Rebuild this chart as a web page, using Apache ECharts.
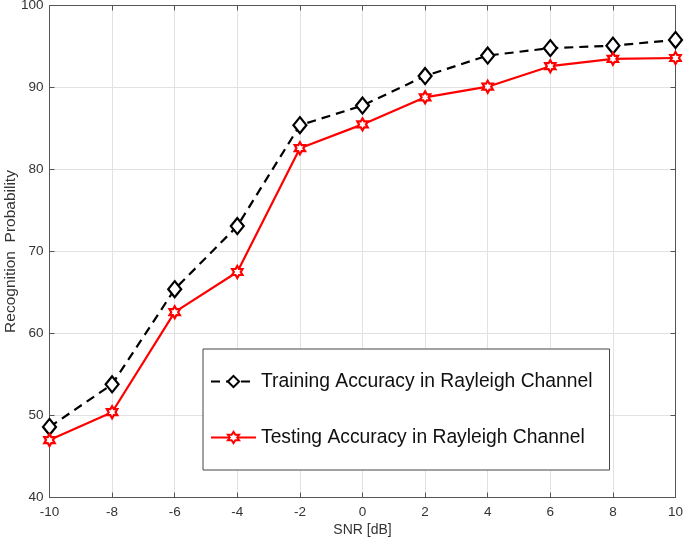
<!DOCTYPE html>
<html>
<head>
<meta charset="utf-8">
<script src="https://cdn.jsdelivr.net/npm/echarts@6/dist/echarts.min.js"></script>
<style>html,body{margin:0;padding:0;background:#fff}#c{width:685px;height:543px}</style>
</head>
<body>
<div id="c"></div>
<script>
const snr = [-10, -8, -6, -4, -2, 0, 2, 4, 6, 8, 10];
const trainAcc = [48.6, 53.8, 65.4, 73.1, 85.4, 87.8, 91.4, 93.9, 94.8, 95.1, 95.8];
const testAcc = [47.0, 50.4, 62.6, 67.5, 82.6, 85.5, 88.8, 90.1, 92.6, 93.5, 93.6];
const trainName = 'Training Accuracy in Rayleigh Channel';
const testName = 'Testing Accuracy in Rayleigh Channel';
const xLabel = 'SNR [dB]';
const yLabel = 'Recognition  Probability';

const hexagram = 'path://M0,-10L2.89,-5L8.66,-5L5.77,0L8.66,5L2.89,5L0,10L-2.89,5L-8.66,5L-5.77,0L-8.66,-5L-2.89,-5Z';
const font = 'Liberation Sans, Arial, Helvetica, sans-serif';
const axisCol = '#555555';
const txtCol = '#333333';

const chart = echarts.init(document.getElementById('c'), null, {renderer: 'canvas'});
const baseX = {type: 'value', min: -10, max: 10, interval: 2};
const baseY = {type: 'value', min: 40, max: 100, interval: 10};
chart.setOption({
  animation: false,
  backgroundColor: '#fff',
  grid: {left: 49.5, right: 9.5, top: 5.5, bottom: 45.5, containLabel: false, outerBoundsMode: 'none'},
  xAxis: [
    Object.assign({}, baseX, {
      position: 'bottom',
      name: xLabel, nameLocation: 'middle', nameGap: 26, nameMoveOverlap: false,
      nameTextStyle: {fontFamily: font, fontSize: 14, color: txtCol},
      axisLine: {show: true, onZero: false, lineStyle: {color: axisCol, width: 1}},
      axisTick: {show: true, inside: true, length: 5, lineStyle: {color: axisCol}},
      axisLabel: {fontFamily: font, fontSize: 13.5, color: txtCol, margin: 8},
      splitLine: {show: true, lineStyle: {color: '#e2e2e2', width: 1}}
    }),
    Object.assign({}, baseX, {
      position: 'top',
      axisLine: {show: true, onZero: false, lineStyle: {color: axisCol, width: 1}},
      axisTick: {show: true, inside: true, length: 5, lineStyle: {color: axisCol}},
      axisLabel: {show: false},
      splitLine: {show: false}
    })
  ],
  yAxis: [
    Object.assign({}, baseY, {
      position: 'left',
      name: yLabel, nameLocation: 'middle', nameGap: 31, nameRotate: 90, nameMoveOverlap: false,
      nameTextStyle: {fontFamily: font, fontSize: 15.5, color: txtCol},
      axisLine: {show: true, onZero: false, lineStyle: {color: axisCol, width: 1}},
      axisTick: {show: true, inside: true, length: 5, lineStyle: {color: axisCol}},
      axisLabel: {fontFamily: font, fontSize: 13.5, color: txtCol, margin: 6},
      splitLine: {show: true, lineStyle: {color: '#e2e2e2', width: 1}}
    }),
    Object.assign({}, baseY, {
      position: 'right',
      axisLine: {show: true, onZero: false, lineStyle: {color: axisCol, width: 1}},
      axisTick: {show: true, inside: true, length: 5, lineStyle: {color: axisCol}},
      axisLabel: {show: false},
      splitLine: {show: false}
    })
  ],
  legend: {
    orient: 'vertical',
    left: 203, top: 349,
    padding: [23, 17, 23, 7],
    itemGap: 37,
    itemWidth: 45, itemHeight: 14,
    backgroundColor: '#fff',
    borderColor: '#444', borderWidth: 1, borderRadius: 0,
    textStyle: {fontFamily: font, fontSize: 19.3, color: '#111'},
    data: [trainName, testName]
  },
  series: [
    {
      name: trainName, type: 'line', xAxisIndex: 0, yAxisIndex: 0,
      data: snr.map((x, i) => [x, trainAcc[i]]),
      symbol: 'diamond', symbolSize: [13, 16],
      lineStyle: {color: '#000', width: 2.2, type: [9, 6]},
      itemStyle: {color: '#fff', borderColor: '#000', borderWidth: 2.2},
      z: 2
    },
    {
      name: testName, type: 'line', xAxisIndex: 0, yAxisIndex: 0,
      data: snr.map((x, i) => [x, testAcc[i]]),
      symbol: hexagram, symbolSize: 12, symbolKeepAspect: true,
      lineStyle: {color: '#ff0000', width: 2.2},
      itemStyle: {color: '#fff', borderColor: '#ff0000', borderWidth: 2.2},
      z: 3
    }
  ]
});
</script>
</body>
</html>
